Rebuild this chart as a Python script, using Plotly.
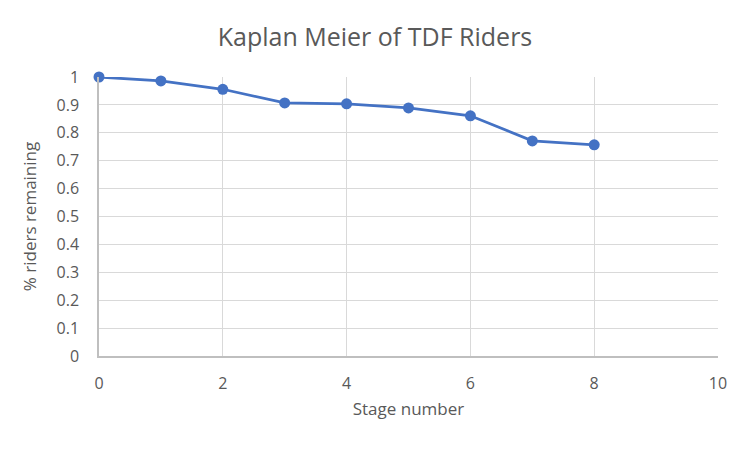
import plotly.graph_objects as go

stages = [0, 1, 2, 3, 4, 5, 6, 7, 8]
remaining = [1.0, 0.986, 0.956, 0.907, 0.904, 0.889, 0.861, 0.771, 0.757]

fig = go.Figure()
fig.add_trace(go.Scatter(
    x=stages, y=remaining, mode="lines+markers",
    line=dict(color="#4472C4", width=2.75),
    marker=dict(color="#4472C4", size=11),
    showlegend=False, cliponaxis=False,
))

font_family = "Open Sans, Liberation Sans, sans-serif"
fig.update_layout(
    width=750, height=450,
    margin=dict(l=99, r=32, t=77, b=94),
    paper_bgcolor="white", plot_bgcolor="white",
    font=dict(family=font_family, color="#595959", size=16),
    title=dict(text="Kaplan Meier of TDF Riders", x=0.5, xanchor="center",
               y=1 - 37 / 450, yanchor="middle",
               font=dict(size=25, color="#595959", family=font_family)),
)
fig.update_xaxes(
    range=[0, 10], tickvals=[0, 2, 4, 6, 8, 10],
    showgrid=True, gridcolor="#d9d9d9", gridwidth=1,
    showline=True, linecolor="#bfbfbf", linewidth=1.5,
    zeroline=False, ticks="", ticklen=0,
    tickfont=dict(size=16), ticklabelstandoff=12,
    title=dict(text="Stage number", font=dict(size=17), standoff=10),
)
fig.update_yaxes(
    range=[0, 1], tickvals=[0, 0.1, 0.2, 0.3, 0.4, 0.5, 0.6, 0.7, 0.8, 0.9, 1],
    ticktext=["0", "0.1", "0.2", "0.3", "0.4", "0.5", "0.6", "0.7", "0.8", "0.9", "1"],
    showgrid=True, gridcolor="#d9d9d9", gridwidth=1,
    showline=True, linecolor="#bfbfbf", linewidth=1.5,
    zeroline=False, ticks="", ticklen=0,
    tickfont=dict(size=16), ticklabelstandoff=15,
    title=dict(text="% riders remaining", font=dict(size=17), standoff=16),
)

fig.write_html("out.html")
